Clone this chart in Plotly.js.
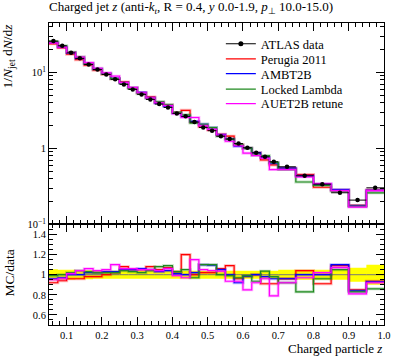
<!DOCTYPE html>
<html><head><meta charset="utf-8">
<script src="https://cdn.plot.ly/plotly-3.0.1.min.js"></script>
<style>html,body{margin:0;padding:0;background:#fff}#chart{width:397px;height:358px}</style>
</head><body><div id="chart"></div>
<script>
// Bin edges (charged particle z)
const binEdges = [0.05,0.075,0.1,0.125,0.15,0.175,0.2,0.225,0.25,0.275,0.3,0.325,0.35,0.375,0.4,0.425,0.45,0.475,0.5,0.525,0.55,0.575,0.6,0.625,0.65,0.675,0.7,0.75,0.8,0.85,0.9,0.95,1.0];
// ATLAS data 1/Njet dN/dz
const dataVals = [25.8,22.4,18.1,15.3,12.7,10.9,9.4,8.1,6.95,5.97,5.14,4.41,3.83,3.46,2.89,2.64,2.22,1.89,1.71,1.45,1.33,1.16,1.02,0.875,0.776,0.667,0.573,0.436,0.339,0.261,0.209,0.303];
// relative data uncertainty (yellow band half-width)
const dataRelErr = [0.055,0.05,0.05,0.045,0.045,0.04,0.04,0.04,0.04,0.04,0.04,0.04,0.04,0.04,0.04,0.04,0.04,0.04,0.04,0.04,0.04,0.04,0.04,0.04,0.04,0.04,0.05,0.05,0.05,0.05,0.07,0.1];
// MC / data ratios
const ratioPerugia = [0.92,0.94,0.96,0.96,0.98,0.98,1.0,1.02,1.08,1.05,1.05,1.08,1.05,1.07,1.03,1.2,1.0,1.02,1.02,1.06,1.09,0.96,0.985,1.0,0.91,0.91,0.96,1.04,0.91,1.09,0.85,0.935];
const ratioAMBT2B = [0.96,0.97,1.0,1.0,1.02,1.02,1.03,1.03,1.05,1.05,1.06,1.05,1.03,1.04,1.01,1.0,1.02,1.1,1.095,1.05,1.0,0.92,0.985,1.0,0.98,0.96,0.96,1.0,1.0,1.1,0.84,0.93];
const ratioLocked = [0.99,1.0,1.02,1.04,1.03,1.02,1.02,1.02,1.04,1.03,1.02,1.04,1.08,1.09,1.03,1.05,0.97,1.1,1.1,1.0,0.99,0.97,0.99,0.935,1.035,0.98,0.92,0.83,0.96,1.05,0.83,0.86];
const ratioAUET2B = [0.95,0.96,1.01,1.04,1.06,1.04,1.05,1.1,1.06,1.06,1.05,1.05,1.04,1.06,0.99,0.97,1.15,1.05,1.04,1.035,0.935,0.935,0.85,0.92,0.96,0.79,0.92,0.97,1.02,1.07,0.81,0.92];

const seriesNames = ['Perugia 2011','AMBT2B','Locked Lambda','AUET2B retune'];
const seriesColors = ['#ff0000','#0000ff','#1f8a1f','#ff00ff'];
const seriesRatios = [ratioPerugia, ratioAMBT2B, ratioLocked, ratioAUET2B];

const FONT = 'Liberation Serif, serif';
const centers = dataVals.map((v,i)=>(binEdges[i]+binEdges[i+1])/2);
const halfW = dataVals.map((v,i)=>(binEdges[i+1]-binEdges[i])/2);
const step = a => a.concat([a[a.length-1]]);

const traces = [];
// legend entry for data
traces.push({x:[null],y:[null],xaxis:'x2',yaxis:'y',mode:'lines+markers',name:'ATLAS data',
  line:{color:'#000',width:1},marker:{color:'#000',size:5},legend:'legend',hoverinfo:'skip'});

// ratio panel: yellow band
traces.push({x:binEdges,y:step(dataRelErr.map(e=>1-e)),xaxis:'x',yaxis:'y2',mode:'lines',line:{shape:'hv',width:0,color:'#ffff00'},showlegend:false,hoverinfo:'skip'});
traces.push({x:binEdges,y:step(dataRelErr.map(e=>1+e)),xaxis:'x',yaxis:'y2',mode:'lines',line:{shape:'hv',width:0,color:'#ffff00'},fill:'tonexty',fillcolor:'#ffff00',showlegend:false,hoverinfo:'skip'});
traces.push({x:binEdges,y:step(dataVals.map(()=>1)),xaxis:'x',yaxis:'y2',mode:'lines',line:{shape:'hv',width:1,color:'#777'},showlegend:false,hoverinfo:'skip'});

seriesNames.forEach((nm,k)=>{
  const r = seriesRatios[k];
  const mc = dataVals.map((v,i)=>v*r[i]);
  const c = seriesColors[k];
  // pale MC uncertainty halos
  traces.push({x:binEdges,y:step(mc),xaxis:'x2',yaxis:'y',mode:'lines',line:{shape:'hv',width:3,color:c},opacity:0.28,showlegend:false,hoverinfo:'skip'});
  traces.push({x:binEdges,y:step(r),xaxis:'x',yaxis:'y2',mode:'lines',line:{shape:'hv',width:3,color:c},opacity:0.28,showlegend:false,hoverinfo:'skip'});
  traces.push({x:binEdges,y:step(mc),xaxis:'x2',yaxis:'y',mode:'lines',line:{shape:'hv',width:1.2,color:c},name:nm,legend:'legend'+(k+2)});
  traces.push({x:binEdges,y:step(r),xaxis:'x',yaxis:'y2',mode:'lines',line:{shape:'hv',width:1.2,color:c},showlegend:false});
});

// data points
traces.push({x:centers,y:dataVals,xaxis:'x2',yaxis:'y',mode:'markers',marker:{color:'#000',size:4.5},
  error_y:{type:'data',array:dataVals.map((v,i)=>v*dataRelErr[i]*0.6),color:'#000',thickness:1,width:0},
  error_x:{type:'data',array:halfW,color:'#000',thickness:1,width:0},showlegend:false});

const legY = [0.930,0.880,0.831,0.780,0.732];
const legX = 0.513;
const mkLeg = y => ({x:legX,y:y,xanchor:'left',yanchor:'middle',bgcolor:'rgba(0,0,0,0)',borderwidth:0,font:{family:FONT,size:12.5,color:'#000'}});

const axCommon = {ticks:'inside',mirror:'allticks',showline:true,linecolor:'#000',linewidth:1,tickcolor:'#000',showgrid:false,zeroline:false,tickfont:{family:FONT,size:10.5,color:'#000'}};
const xMinorVals = [0.06,0.08,0.12,0.14,0.16,0.18,0.22,0.24,0.26,0.28,0.32,0.34,0.36,0.38,0.42,0.44,0.46,0.48,0.52,0.54,0.56,0.58,0.62,0.64,0.66,0.68,0.72,0.74,0.76,0.78,0.82,0.84,0.86,0.88,0.92,0.94,0.96,0.98];
const xTickVals = [0.1,0.2,0.3,0.4,0.5,0.6,0.7,0.8,0.9,1.0];
const xTickText = ['0.1','0.2','0.3','0.4','0.5','0.6','0.7','0.8','0.9','1.0'];
const yTickVals = [0.1,1,10];
const yTickText = ['10<sup>−1</sup>','1','10<sup>1</sup>'];
const yMinorVals = [0.2,0.3,0.4,0.5,0.6,0.7,0.8,0.9,2,3,4,5,6,7,8,9,20,30,40];
const rTickVals = [0.6,0.8,1.0,1.2,1.4];
const rTickText = ['0.6','0.8','1','1.2','1.4'];
const rMinorVals = [0.55,0.65,0.7,0.75,0.85,0.9,0.95,1.05,1.1,1.15,1.25,1.3,1.35,1.45];

const split = 0.333;
const layout = {
  width:397,height:358,margin:{l:49,r:13,t:23,b:33},paper_bgcolor:'#fff',plot_bgcolor:'#fff',
  font:{family:FONT,size:12,color:'#000'},
  title:{text:'Charged jet <i>z</i> (anti-<i>k</i><sub><i>t</i></sub>, R = 0.4, <i>y</i> 0.0-1.9, <i>p</i><sub>⊥</sub> 10.0-15.0)',
    x:0,xref:'paper',xanchor:'left',y:0.995,yref:'container',yanchor:'top',font:{family:FONT,size:13,color:'#000'}},
  xaxis:Object.assign({},axCommon,{domain:[0,1],anchor:'y2',range:[0.05,1.0],tickmode:'array',tickvals:xTickVals,ticktext:xTickText,ticklen:8,
    minor:{tickmode:'array',tickvals:xMinorVals,ticklen:4,ticks:'inside',tickcolor:'#000'}}),
  xaxis2:Object.assign({},axCommon,{domain:[0,1],anchor:'y',matches:'x',range:[0.05,1.0],tickmode:'array',tickvals:xTickVals,ticklen:8,showticklabels:false,
    minor:{tickmode:'array',tickvals:xMinorVals,ticklen:4,ticks:'inside',tickcolor:'#000'}}),
  yaxis:Object.assign({},axCommon,{domain:[split,1],anchor:'x2',type:'log',range:[-1,1.65],tickmode:'array',tickvals:yTickVals,ticktext:yTickText,ticklen:8,
    minor:{tickmode:'array',tickvals:yMinorVals,ticklen:4,ticks:'inside',tickcolor:'#000'}}),
  yaxis2:Object.assign({},axCommon,{domain:[0,split],anchor:'x',range:[0.5,1.5],tickmode:'array',tickvals:rTickVals,ticktext:rTickText,ticklen:8,
    minor:{tickmode:'array',tickvals:rMinorVals,ticklen:4,ticks:'inside',tickcolor:'#000'}}),
  legend:mkLeg(legY[0]),legend2:mkLeg(legY[1]),legend3:mkLeg(legY[2]),legend4:mkLeg(legY[3]),legend5:mkLeg(legY[4]),
  annotations:[
    {text:'1/<i>N</i><sub>jet</sub> d<i>N</i>/d<i>z</i>',textangle:-90,xref:'paper',yref:'paper',x:-0.118,y:1.005,xanchor:'center',yanchor:'top',showarrow:false,font:{family:FONT,size:13.5,color:'#000'}},
    {text:'MC/data',textangle:-90,xref:'paper',yref:'paper',x:-0.118,y:0.172,xanchor:'center',yanchor:'middle',showarrow:false,font:{family:FONT,size:13.5,color:'#000'}},
    {text:'Charged particle <i>z</i>',xref:'paper',yref:'paper',x:1,y:-0.077,xanchor:'right',yanchor:'middle',showarrow:false,font:{family:FONT,size:13,color:'#000'}}
  ],
  showlegend:true
};
Plotly.newPlot('chart',traces,layout,{displayModeBar:false,staticPlot:true});
</script></body></html>
